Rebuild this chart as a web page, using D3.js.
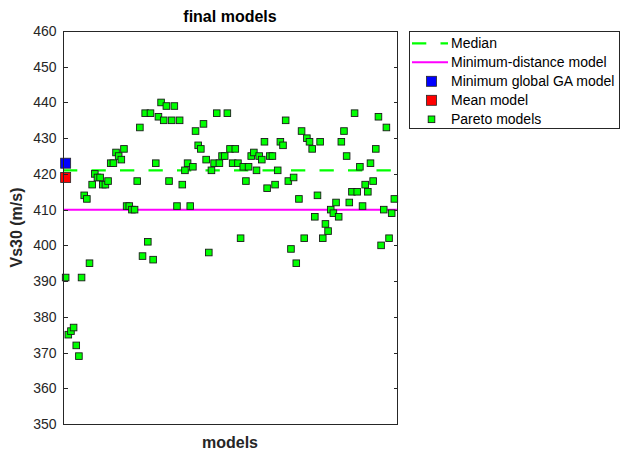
<!DOCTYPE html>
<html>
<head>
<meta charset="utf-8">
<script src="https://cdn.jsdelivr.net/npm/d3@7"></script>
<style>
  html, body { margin: 0; padding: 0; background: #fff; }
  svg { display: block; font-family: "Liberation Sans", Arial, Helvetica, sans-serif; }
</style>
</head>
<body>
<svg id="chart" width="621" height="457"></svg>
<script>
// Vs30 of each Pareto-front model, in model order (1..N)
const paretoVs30 = [
  391, 375, 376, 377, 372, 369, 391, 414, 413, 395,
  417, 420, 419, 419, 417, 417, 418, 423, 423, 426,
  425, 424, 427, 411, 411, 410, 410, 418, 433, 397,
  437, 401, 437, 396, 423, 436, 440, 435, 439, 418,
  435, 439, 411, 435, 417, 421, 423, 411, 422, 432,
  428, 427, 434, 424, 398, 421, 423, 437, 423, 425,
  425, 437, 427, 423, 427, 423, 402, 422, 418, 422,
  425, 426, 421, 425, 424, 429, 416, 425, 425, 417,
  421, 429, 428, 435, 418, 399, 419, 395, 413, 432,
  402, 430, 429, 427, 408, 414, 429, 402, 406, 404,
  410, 409, 412, 408, 429, 432, 425, 412, 415, 437,
  415, 422, 411, 417, 415, 423, 418, 427, 436, 400,
  410, 433, 402, 409, 413
];

// Summary values
const medianVs30 = 421;
const minDistanceVs30 = 410;
const globalGAVs30 = 423;
const meanVs30 = 419;

// Axis settings
const yTicks = [350, 360, 370, 380, 390, 400, 410, 420, 430, 440, 450, 460];
const yDomain = [350, 460];
const xDomain = [0, 126];

// Legend entries
const legendLabels = ["Median", "Minimum-distance model", "Minimum global GA model", "Mean model", "Pareto models"];

const axisColor = "#262626";
const svg = d3.select("#chart");

const plot = { left: 63, right: 397, top: 31, bottom: 424 };

const x = d3.scaleLinear().domain(xDomain).range([plot.left, plot.right]);
const y = d3.scaleLinear().domain(yDomain).range([plot.bottom, plot.top]);

const models = paretoVs30.map((v, i) => ({ model: i + 1, vs30: v }));

// Reference lines
const g = svg.append("g");
g.append("line")
  .attr("x1", x(xDomain[0])).attr("x2", x(xDomain[1]))
  .attr("y1", y(medianVs30)).attr("y2", y(medianVs30))
  .attr("stroke", "#00ff00").attr("stroke-width", 2.2)
  .attr("stroke-dasharray", "14.3,14.2");
g.append("line")
  .attr("x1", x(xDomain[0])).attr("x2", x(xDomain[1]))
  .attr("y1", y(minDistanceVs30)).attr("y2", y(minDistanceVs30))
  .attr("stroke", "#ff00ff").attr("stroke-width", 2);

// Large markers for the GA and mean models at model 1
const bigSize = 10;
g.append("rect")
  .attr("x", x(1) - bigSize / 2).attr("y", y(globalGAVs30) - bigSize / 2)
  .attr("width", bigSize).attr("height", bigSize)
  .attr("fill", "#0000ff").attr("stroke", "#262626").attr("stroke-width", 0.8);
g.append("rect")
  .attr("x", x(1) - bigSize / 2).attr("y", y(meanVs30) - bigSize / 2)
  .attr("width", bigSize).attr("height", bigSize)
  .attr("fill", "#ff0000").attr("stroke", "#262626").attr("stroke-width", 0.8);

// Pareto models
const sq = 6.6;
g.selectAll("rect.pareto").data(models).join("rect")
  .attr("class", "pareto")
  .attr("x", d => x(d.model) - sq / 2)
  .attr("y", d => y(d.vs30) - sq / 2)
  .attr("width", sq).attr("height", sq)
  .attr("fill", "#00ff00").attr("stroke", "#1a1a1a").attr("stroke-width", 0.9);

// Axes box
const yAxisL = d3.axisLeft(y).tickValues(yTicks).tickSize(-4).tickPadding(7).tickFormat(d3.format("d"));
const yAxisR = d3.axisRight(y).tickValues(yTicks).tickSize(-4).tickFormat("");

const axL = svg.append("g").attr("transform", `translate(${plot.left + 0.5},0)`).call(yAxisL);
const axR = svg.append("g").attr("transform", `translate(${plot.right + 0.5},0)`).call(yAxisR);
[axL, axR].forEach(a => {
  a.select(".domain").remove();
  a.selectAll(".tick line").attr("stroke", axisColor).attr("shape-rendering", "crispEdges");
  a.selectAll(".tick text").attr("fill", axisColor).attr("font-size", 14)
    .attr("font-family", "'Liberation Sans', Arial, sans-serif");
});
svg.append("rect")
  .attr("x", plot.left + 0.5).attr("y", plot.top + 0.5)
  .attr("width", plot.right - plot.left).attr("height", plot.bottom - plot.top)
  .attr("fill", "none").attr("stroke", axisColor).attr("stroke-width", 1)
  .attr("shape-rendering", "crispEdges");

// Titles
svg.append("text")
  .attr("x", (plot.left + plot.right) / 2).attr("y", 22)
  .attr("text-anchor", "middle").attr("font-weight", "bold").attr("font-size", 16)
  .attr("fill", "#000").text("final models");
svg.append("text")
  .attr("x", (plot.left + plot.right) / 2).attr("y", 448)
  .attr("text-anchor", "middle").attr("font-weight", "bold").attr("font-size", 16)
  .attr("fill", axisColor).text("models");
svg.append("text")
  .attr("transform", `translate(22,${(plot.top + plot.bottom) / 2}) rotate(-90)`)
  .attr("text-anchor", "middle").attr("font-weight", "bold").attr("font-size", 16)
  .attr("fill", axisColor).text("Vs30 (m/s)");

// Legend
const leg = { x: 409.5, y: 31.5, w: 210, h: 97 };
const lg = svg.append("g");
lg.append("rect")
  .attr("x", leg.x).attr("y", leg.y).attr("width", leg.w).attr("height", leg.h)
  .attr("fill", "#fff").attr("stroke", axisColor).attr("stroke-width", 1)
  .attr("shape-rendering", "crispEdges");
const rowY = i => 43.3 + i * 19;
const symX0 = 412, symX1 = 448, symC = 431.5, textX = 451;
lg.append("line").attr("x1", symX0).attr("x2", symX1).attr("y1", rowY(0)).attr("y2", rowY(0))
  .attr("stroke", "#00ff00").attr("stroke-width", 2.2).attr("stroke-dasharray", "14.3,14.2");
lg.append("line").attr("x1", symX0).attr("x2", symX1).attr("y1", rowY(1)).attr("y2", rowY(1))
  .attr("stroke", "#ff00ff").attr("stroke-width", 2);
lg.append("rect").attr("x", symC - bigSize / 2).attr("y", rowY(2) - bigSize / 2)
  .attr("width", bigSize).attr("height", bigSize)
  .attr("fill", "#0000ff").attr("stroke", "#262626").attr("stroke-width", 0.8);
lg.append("rect").attr("x", symC - bigSize / 2).attr("y", rowY(3) - bigSize / 2)
  .attr("width", bigSize).attr("height", bigSize)
  .attr("fill", "#ff0000").attr("stroke", "#262626").attr("stroke-width", 0.8);
lg.append("rect").attr("x", symC - sq / 2).attr("y", rowY(4) - sq / 2)
  .attr("width", sq).attr("height", sq)
  .attr("fill", "#00ff00").attr("stroke", "#1a1a1a").attr("stroke-width", 0.9);
lg.selectAll("text.lab").data(legendLabels).join("text")
  .attr("class", "lab")
  .attr("x", textX).attr("y", (d, i) => rowY(i))
  .attr("dy", "0.35em").attr("font-size", 14).attr("fill", "#000")
  .text(d => d);
</script>
</body>
</html>
